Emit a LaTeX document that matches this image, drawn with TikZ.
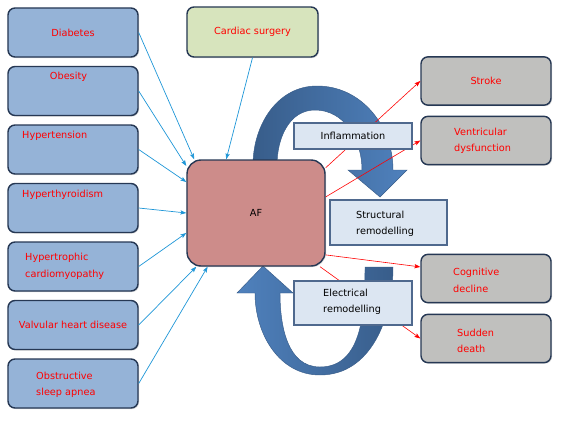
\documentclass[tikz,border=0pt]{standalone}
\usepackage{fontspec}
\setmainfont{DejaVu Sans}
\usetikzlibrary{arrows.meta,shadows}
\definecolor{riskfill}{RGB}{149,179,215}
\definecolor{boxline}{RGB}{38,56,84}
\definecolor{surgfill}{RGB}{215,228,189}
\definecolor{affill}{RGB}{205,140,138}
\definecolor{outfill}{RGB}{192,192,190}
\definecolor{mechfill}{RGB}{220,230,242}
\definecolor{mechline}{RGB}{79,105,142}
\definecolor{inblue}{RGB}{30,150,215}
\definecolor{arrdark}{RGB}{56,93,138}
\definecolor{arrlight}{RGB}{79,129,189}

\begin{document}
\begin{tikzpicture}[x=0.03cm,y=0.03cm]
\tikzstyle{every node}+=[inner sep=0pt, font=\fontsize{8.3}{14}\selectfont]
\tikzstyle{boxshadow}=[drop shadow={shadow xshift=0.9pt, shadow yshift=-0.9pt, opacity=0.3}]
\tikzstyle{riskbox}=[draw=boxline, line width=1.2pt, fill=riskfill, rounded corners=6pt, minimum width=3.9cm, minimum height=1.47cm, text=red, boxshadow]
\tikzstyle{outbox}=[riskbox, fill=outfill, minimum height=1.45cm]
\tikzstyle{mechbox}=[draw=mechline, line width=1pt, fill=mechfill, boxshadow]
\tikzstyle{redtext}=[text=red, align=left, anchor=west]
\tikzstyle{blacktext}=[align=left, anchor=west]
\tikzstyle{inarrow}=[draw=inblue, line width=0.6pt, -{Stealth[length=5pt,width=3.6pt,inset=1pt]}]
\tikzstyle{outarrow}=[draw=red, line width=0.5pt, -{Stealth[length=5pt,width=3.6pt,inset=1pt]}]
\useasboundingbox (0,0) rectangle (561,-420);

% big curved arrows
\shadedraw[left color=arrdark, right color=arrlight, draw=arrdark, line width=0.4pt]
  (253,-165) to[out=90,in=180] (317,-86) to[out=0,in=90] (393,-170) -- (407,-170)
  -- (380,-197) -- (348,-170) -- (362,-170) to[out=90,in=0] (315,-110)
  to[out=180,in=90] (277,-165) -- cycle;
\shadedraw[left color=arrlight, right color=arrdark, draw=arrdark, line width=0.4pt]
  (393,-267) to[out=-90,in=0] (320,-375) to[out=180,in=-90] (255,-293) -- (237,-293)
  -- (263,-266) -- (293,-293) -- (280,-293) to[out=-90,in=180] (320,-367)
  to[out=0,in=-90] (365,-267) -- cycle;

% AF
\node[draw=boxline, line width=1.2pt, fill=affill, rounded corners=12pt, minimum width=4.14cm, minimum height=3.18cm, boxshadow] (af) at (256,-213) {AF};

% risk factors
\node[riskbox] (diab) at (73,-32.5) {Diabetes};
\node[riskbox] (obes) at (73,-91) {};
\node[riskbox] (hypt) at (73,-149.5) {};
\node[riskbox] (thyr) at (73,-208) {};
\node[riskbox] (hcm) at (73,-266.5) {};
\node[riskbox] (valv) at (73,-325) {Valvular heart disease};
\node[riskbox] (osa) at (73,-383.5) {};
\node[riskbox, fill=surgfill, minimum width=3.93cm, minimum height=1.5cm] (surg) at (252.5,-32) {Cardiac surgery};

\node[text=red] (obesT) at (68.5,-77) {Obesity};
\node[redtext] (hyptT) at (22,-136) {Hypertension};
\node[redtext] (thyrT) at (22,-195) {Hyperthyroidism};
\node[redtext] (hcmT) at (25,-266.5) {Hypertrophic\\cardiomyopathy};
\node[redtext] (osaT) at (36,-385) {Obstructive\\sleep apnea};

% outcomes
\node[outbox] (stroke) at (486,-81) {Stroke};
\node[outbox] (vent) at (486,-140.5) {};
\node[outbox] (cogn) at (486,-278.5) {};
\node[outbox] (death) at (486,-338.5) {};
\node[redtext] (ventT) at (454,-141) {Ventricular\\dysfunction};
\node[redtext] (cognT) at (453,-280.5) {Cognitive\\decline};
\node[redtext] (deathT) at (457,-341) {Sudden\\death};

% connectors
\draw[inarrow] (diab.east) -- (af.139);
\draw[inarrow] (obes.east) -- (af.146);
\draw[inarrow] (hypt.east) -- (af.156);
\draw[inarrow] (thyr.east) -- (af.west);
\draw[inarrow] (hcm.east) -- (af.196);
\draw[inarrow] (valv.east) -- (af.222);
\draw[inarrow] (osa.east) -- (af.228);
\draw[inarrow] (surg.south) -- (af.119);
\draw[outarrow] (af.33) -- (stroke.west);
\draw[outarrow] (af.13) -- (vent.west);
\draw[outarrow] (af.329) -- (cogn.170);
\draw[outarrow] (af.320) -- (death.west);

% mechanisms
\node[mechbox, minimum width=3.54cm, minimum height=0.78cm] (infl) at (353,-136) {Inflammation};
\node[mechbox, minimum width=3.51cm, minimum height=1.35cm] (struc) at (388.5,-222.5) {};
\node[mechbox, minimum width=3.54cm, minimum height=1.32cm] (elec) at (353,-303) {};
\node[blacktext] (strucT) at (356,-224) {Structural\\remodelling};
\node[blacktext] (elecT) at (323,-302) {Electrical\\remodelling};
\end{tikzpicture}
\end{document}
